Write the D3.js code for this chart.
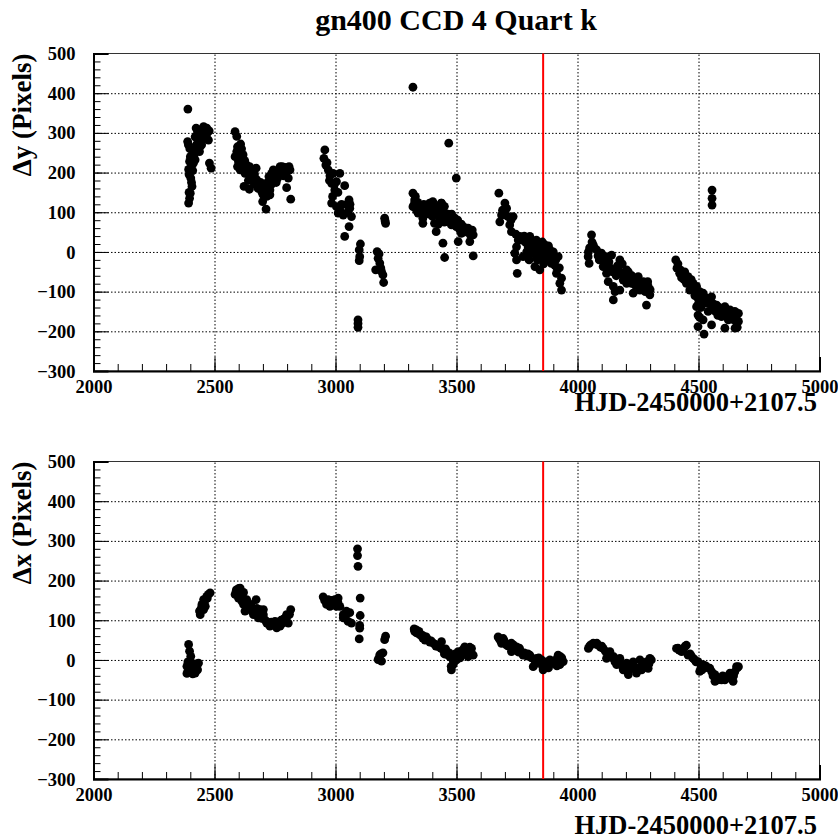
<!DOCTYPE html>
<html>
<head>
<meta charset="utf-8">
<script src="https://cdn.jsdelivr.net/npm/d3@7"></script>
<style>
  body { margin: 0; background: #fff; }
  svg { display: block; }
  text { font-family: "Liberation Serif", "Times New Roman", serif; font-weight: bold; fill: #000; }
</style>
</head>
<body>
<svg width="838" height="840"></svg>
<script>
// chart values
const titleText = "gn400 CCD 4 Quart k";
const xTitle = "HJD-2450000+2107.5";
const xDomain = [2000, 5000];
const yDomain = [-300, 500];
const xMajor = [2000, 2500, 3000, 3500, 4000, 4500, 5000];
const yMajor = [-300, -200, -100, 0, 100, 200, 300, 400, 500];
const markerHjd = 3858;

// [HJD, dy]
const dyPoints = [
  [2390,360],[2389,278],[2392,270],[2400,240],[2397,228],[2393,208],[2402,186],[2407,165],[2400,148],[2397,135],[2393,123],
  [2424,312],[2434,291],[2455,316],[2468,312],[2475,282],[2441,274],[2427,257],[2420,232],[2448,299],[2462,287],[2438,253],
  [2413,224],[2416,245],[2479,224],[2486,211],[2430,300],[2445,285],[2458,300],[2470,300],[2440,265],[2425,270],[2410,205],
  [2405,175],[2395,150],[2420,290],[2435,305],[2450,310],[2465,295],[2478,305],[2432,280],[2447,270],[2398,260],[2395,195],
  [2404,215],
  [2585,303],[2592,291],[2608,272],[2592,253],[2585,240],[2599,228],[2606,207],[2620,232],[2633,219],[2626,198],[2647,190],
  [2672,211],[2661,182],[2681,173],[2622,165],[2644,158],[2695,152],[2729,156],[2716,140],[2699,127],[2713,108],[2736,198],
  [2761,186],[2771,215],[2791,213],[2812,207],[2805,186],[2784,192],[2743,207],[2798,162],[2815,133],[2613,240],[2640,207],
  [2654,203],[2674,182],[2688,165],[2709,161],[2729,144],[2595,265],[2600,245],[2615,220],[2630,205],[2650,195],[2665,195],
  [2680,160],[2700,145],[2720,175],[2745,185],[2760,200],[2780,215],[2800,205],[2595,215],[2605,250],[2612,260],[2618,245],
  [2625,230],[2635,210],[2645,215],[2655,180],[2665,170],[2690,175],[2705,160],[2725,190],[2735,170],[2750,195],[2770,200],
  [2790,200],[2808,215],[2755,175],[2640,180],
  [2956,257],[2952,236],[2960,219],[2970,207],[2977,192],[2990,198],[2984,173],[3004,177],[3018,198],[3038,167],[2997,156],
  [2988,140],[2984,123],[3004,114],[3018,106],[3032,93],[3056,131],[3059,110],[3066,89],[3056,64],[3038,39],[3011,98],
  [3045,119],[2965,225],[2975,180],[2995,170],[3010,150],[3025,120],[3050,100],[3060,120],
  [3103,20],[3098,5],[3100,-12],[3098,-22],[3093,-171],[3093,-180],[3093,-190],
  [3172,1],[3176,-16],[3183,-28],[3166,-45],[3190,-49],[3196,-58],[3199,-77],[3180,-5],[3187,-40],[3203,85],[3207,72],[3205,78],
  [3320,415],[3468,274],[3499,186],
  [3320,148],[3327,131],[3320,114],[3341,98],[3361,85],[3361,72],[3402,127],[3416,106],[3437,123],[3444,106],[3457,89],
  [3478,81],[3499,64],[3409,72],[3416,51],[3444,22],[3451,-14],[3389,123],[3375,106],[3438,123],[3445,102],[3459,89],
  [3472,76],[3493,85],[3500,68],[3514,55],[3527,64],[3548,60],[3562,51],[3569,43],[3555,26],[3507,26],[3569,-10],[3479,68],
  [3520,47],[3330,140],[3345,115],[3355,100],[3370,95],[3385,100],[3395,110],[3420,95],[3430,85],[3465,95],[3485,75],
  [3505,80],[3535,55],[3340,125],[3400,90],[3325,120],[3335,105],[3350,110],[3365,120],[3380,115],[3390,95],[3410,115],
  [3425,110],[3435,100],[3450,115],[3460,80],[3470,90],[3480,95],[3490,70],[3510,65],[3520,70],[3530,50],[3540,60],
  [3555,45],[3565,55],[3450,75],[3425,70],
  [3675,148],[3700,123],[3707,110],[3686,93],[3679,76],[3734,89],[3720,68],[3727,51],[3762,39],[3748,13],[3741,-3],[3748,-20],
  [3751,-54],[3803,39],[3817,26],[3796,13],[3831,13],[3844,-3],[3824,-37],[3844,-45],[3865,18],[3886,5],[3899,-12],[3920,-12],
  [3906,-33],[3913,-54],[3934,-66],[3927,-79],[3934,-96],[3775,-12],[3858,-12],[3872,-20],[3892,-29],[3810,-3],[3785,25],
  [3790,0],[3820,10],[3840,20],[3850,5],[3875,10],[3900,0],[3910,-20],[3860,-30],[3835,-20],[3925,-40],[3770,30],
  [3690,105],[3710,90],[3725,80],[3745,45],[3755,30],[3780,40],[3795,30],[3805,20],[3815,0],[3830,30],[3845,10],[3855,25],
  [3870,0],[3880,15],[3890,-10],[3900,-25],[3915,-40],[3830,-15],[3800,-20],
  [4058,43],[4044,-12],[4048,-29],[4065,18],[4079,5],[4099,-3],[4120,-12],[4141,-8],[4106,-37],[4120,-54],[4127,-75],[4148,-87],
  [4148,-121],[4175,-20],[4182,-54],[4203,-45],[4189,-71],[4175,-96],[4223,-79],[4230,-104],[4251,-62],[4272,-75],[4292,-87],
  [4299,-108],[4285,-134],[4258,-96],[4203,-79],[4050,10],[4060,25],[4090,-20],[4110,-25],[4135,-40],[4160,-60],[4165,-35],
  [4195,-60],[4215,-65],[4240,-85],[4265,-90],[4280,-100],[4155,-100],[4045,0],[4070,10],[4085,-10],[4100,-15],[4115,-35],
  [4130,-25],[4145,-50],[4170,-45],[4185,-30],[4200,-60],[4210,-50],[4225,-60],[4235,-70],[4255,-80],[4270,-85],[4290,-75],
  [4300,-95],
  [4406,-20],[4411,-41],[4422,-54],[4443,-50],[4457,-62],[4450,-79],[4464,-96],[4478,-79],[4492,-87],[4505,-100],[4498,-117],
  [4519,-104],[4526,-129],[4492,-138],[4498,-159],[4519,-171],[4498,-188],[4523,-207],[4554,-184],[4554,-113],[4575,-134],
  [4588,-146],[4609,-138],[4630,-146],[4643,-155],[4655,-163],[4651,-192],[4609,-192],[4561,-142],[4595,-163],[4623,-171],
  [4665,-155],[4665,-175],[4660,-190],[4430,-65],[4440,-70],[4470,-90],[4485,-110],[4510,-140],[4540,-150],[4570,-150],
  [4580,-160],[4600,-150],[4620,-155],[4640,-170],[4650,-150],[4505,-165],[4415,-30],[4425,-45],[4435,-55],[4455,-75],
  [4470,-70],[4480,-95],[4495,-100],[4500,-130],[4515,-120],[4530,-115],[4545,-130],[4560,-130],[4585,-140],[4605,-145],
  [4615,-160],[4635,-160],[4655,-175],
  [4556,156],[4556,135],[4556,118]
];

// [HJD, dx]
const dxPoints = [
  [2393,39],[2397,22],[2402,9],[2386,-16],[2386,-34],[2400,-24],[2413,-16],[2434,-8],[2420,-33],[2427,-20],[2407,-8],[2395,-30],
  [2410,-35],[2425,-10],[2415,-25],[2390,-5],[2405,-20],[2430,-25],
  [2441,114],[2438,123],[2448,140],[2455,152],[2468,160],[2482,169],[2462,135],[2455,127],[2445,130],[2470,155],[2458,145],
  [2450,135],[2475,165],
  [2592,177],[2606,181],[2585,165],[2599,156],[2613,148],[2633,152],[2672,152],[2647,135],[2626,123],[2661,114],[2688,127],
  [2702,114],[2681,106],[2716,93],[2729,85],[2757,81],[2750,97],[2784,102],[2798,114],[2815,127],[2805,93],[2771,85],[2743,89],
  [2702,127],[2654,123],[2595,170],[2610,165],[2620,140],[2640,130],[2665,120],[2695,105],[2710,100],[2735,95],[2765,95],
  [2775,100],[2790,105],[2810,115],[2620,170],[2600,180],[2590,175],[2615,160],[2630,145],[2650,140],[2660,125],[2675,130],
  [2690,115],[2720,95],[2740,90],[2760,88],[2780,92],[2800,110],
  [2949,159],[2970,152],[2990,144],[3011,156],[2977,135],[3004,135],[3018,135],[2963,140],[2997,152],[2955,150],[2985,150],
  [3010,145],[3032,114],[3045,123],[3059,119],[3032,106],[3052,97],[3066,93],[3040,110],
  [3091,280],[3091,263],[3093,236],[3102,156],[3102,112],[3100,87],[3098,53],[3100,80],
  [3176,1],[3183,13],[3196,18],[3190,-3],[3207,60],[3203,51],[3180,5],[3188,15],
  [3327,72],[3334,76],[3348,64],[3361,55],[3382,51],[3402,43],[3423,34],[3444,26],[3464,13],[3485,1],[3499,9],[3478,-16],
  [3457,22],[3438,46],[3452,21],[3472,8],[3486,-12],[3479,-25],[3507,21],[3520,12],[3534,33],[3562,29],[3569,12],[3548,8],
  [3500,0],[3340,70],[3355,62],[3370,50],[3390,45],[3410,40],[3430,35],[3450,15],[3490,-5],[3515,5],[3540,20],[3560,20],
  [3325,78],[3335,68],[3345,72],[3360,62],[3375,58],[3395,48],[3415,35],[3435,30],[3455,28],[3470,18],[3495,15],[3525,25],
  [3545,25],[3555,32],
  [3672,58],[3693,54],[3686,42],[3707,37],[3727,42],[3748,33],[3762,25],[3727,21],[3775,12],[3803,12],[3831,4],[3817,-17],
  [3844,-4],[3858,-25],[3872,-17],[3899,-4],[3920,12],[3941,-4],[3927,-12],[3886,0],[3851,0],[3680,50],[3700,45],[3715,35],
  [3740,28],[3755,20],[3790,10],[3810,5],[3825,-10],[3865,-10],[3880,-20],[3905,-10],[3915,-15],[3935,5],[3870,-5],
  [3675,55],[3695,50],[3720,40],[3735,38],[3760,30],[3780,18],[3795,15],[3840,5],[3855,-15],[3875,-10],[3890,-5],[3910,0],
  [3930,8],
  [4045,29],[4065,42],[4086,37],[4106,29],[4134,21],[4148,4],[4175,4],[4162,-12],[4189,-25],[4210,-37],[4223,-17],[4244,-33],
  [4258,0],[4279,-12],[4299,4],[4292,-21],[4120,4],[4203,-8],[4055,38],[4075,40],[4095,32],[4115,22],[4125,15],[4140,10],
  [4155,-5],[4180,-10],[4195,-15],[4230,-5],[4250,-20],[4270,-15],[4285,-5],[4305,0],[4050,35],[4080,42],[4100,35],
  [4130,15],[4150,8],[4165,0],[4185,-15],[4200,-20],[4215,-25],[4240,-20],[4265,-25],[4295,-10],
  [4409,29],[4430,21],[4450,37],[4457,12],[4478,4],[4498,-4],[4519,-12],[4505,-29],[4547,-21],[4568,-37],[4568,-54],[4588,-46],
  [4609,-50],[4630,-33],[4643,-54],[4657,-17],[4616,-42],[4665,-17],[4420,25],[4440,30],[4465,15],[4485,0],[4510,-20],
  [4530,-15],[4555,-30],[4580,-50],[4595,-50],[4625,-45],[4650,-30],[4600,-40],[4415,30],[4435,25],[4445,35],[4470,10],
  [4490,-5],[4515,-25],[4540,-20],[4560,-40],[4575,-45],[4605,-45],[4635,-45],[4645,-40],[4660,-20]
];

const panels = [
  { data: dyPoints, label: "\u0394y (Pixels)", top: 53.5, bottom: 371, xTitleY: 411 },
  { data: dxPoints, label: "\u0394x (Pixels)", top: 461.5, bottom: 779, xTitleY: 834 }
];

const svg = d3.select("svg");
const left = 93.5, right = 819.5;

svg.append("text")
  .attr("x", 456).attr("y", 30)
  .attr("text-anchor", "middle")
  .style("font-size", "30px")
  .text(titleText);

var x = d3.scaleLinear().domain(xDomain).range([left, right]);

panels.forEach(function(p) {
  var y = d3.scaleLinear().domain(yDomain).range([p.bottom, p.top]);
  var h = p.bottom - p.top, w = right - left;
  var g = svg.append("g");

  // dotted grid
  g.append("g")
    .attr("transform", "translate(0," + p.bottom + ")")
    .call(d3.axisBottom(x).tickValues(xMajor.slice(1, -1)).tickSize(-h).tickFormat(""))
    .call(s => s.select(".domain").remove())
    .selectAll("line").attr("stroke", "#000").attr("stroke-dasharray", "1.5,2");
  g.append("g")
    .attr("transform", "translate(" + left + ",0)")
    .call(d3.axisLeft(y).tickValues(yMajor.slice(1, -1)).tickSize(-w).tickFormat(""))
    .call(s => s.select(".domain").remove())
    .selectAll("line").attr("stroke", "#000").attr("stroke-dasharray", "1.5,2");

  // frame
  g.append("rect")
    .attr("x", left).attr("y", p.top).attr("width", w).attr("height", h)
    .attr("fill", "none").attr("stroke", "#333").attr("stroke-width", 1);

  // minor ticks
  g.append("g")
    .attr("transform", "translate(0," + p.bottom + ")")
    .call(d3.axisBottom(x).ticks(30).tickSize(-7).tickFormat(""))
    .call(s => s.select(".domain").remove())
    .selectAll("line").attr("stroke", "#000");
  g.append("g")
    .attr("transform", "translate(" + left + ",0)")
    .call(d3.axisLeft(y).ticks(40).tickSize(-7).tickFormat(""))
    .call(s => s.select(".domain").remove())
    .selectAll("line").attr("stroke", "#000");

  // major ticks + labels
  var xa = g.append("g")
    .attr("transform", "translate(0," + p.bottom + ")")
    .call(d3.axisBottom(x).tickValues(xMajor).tickSize(-14).tickPadding(22).tickFormat(d3.format("d")));
  xa.select(".domain").attr("stroke", "#000").attr("stroke-width", 2);
  xa.selectAll("text").style("font-size", "18.5px").attr("dy", "0");
  var ya = g.append("g")
    .attr("transform", "translate(" + left + ",0)")
    .call(d3.axisLeft(y).tickValues(yMajor).tickSize(-15).tickPadding(18).tickFormat(d3.format("d")));
  ya.select(".domain").attr("stroke", "#000").attr("stroke-width", 2);
  ya.selectAll("text").style("font-size", "18.5px").attr("dy", "0.33em");
  g.selectAll(".tick line").attr("stroke", "#000");

  // red marker line
  g.append("line")
    .attr("x1", x(markerHjd)).attr("x2", x(markerHjd))
    .attr("y1", p.top).attr("y2", p.bottom)
    .attr("stroke", "#ff0000").attr("stroke-width", 2);

  // points
  g.append("g")
    .selectAll("circle")
    .data(p.data)
    .enter()
    .append("circle")
      .attr("cx", d => x(d[0]))
      .attr("cy", d => y(d[1]))
      .attr("r", 4.4)
      .attr("fill", "#000");

  // titles
  g.append("text")
    .attr("x", 817).attr("y", p.xTitleY)
    .attr("text-anchor", "end")
    .style("font-size", "26.5px")
    .text(xTitle);
  g.append("text")
    .attr("transform", "translate(31," + p.top + ") rotate(-90)")
    .attr("text-anchor", "end")
    .style("font-size", "27px")
    .text(p.label);
});
</script>
</body>
</html>
